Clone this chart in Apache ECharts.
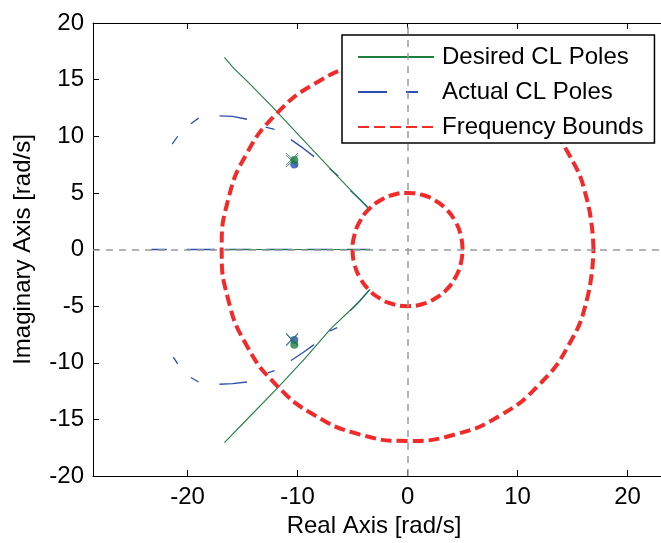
<!DOCTYPE html>
<html>
<head>
<meta charset="utf-8">
<script src="https://cdn.jsdelivr.net/npm/echarts@6/dist/echarts.min.js"></script>
<style>
  html, body { margin: 0; padding: 0; background: #fff; }
  #chart { width: 661px; height: 543px; }
</style>
</head>
<body>
<div id="chart"></div>
<script>
'use strict';

/****** data *****/
var xTicks = [-20, -10, 0, 10, 20];

// desired closed loop poles (green, solid)
var desiredUpper = [[-16.65, 16.96], [-15.8, 16.0], [-14.66, 14.93], [-12.4, 12.7], [-9.7, 9.9], [-6.3, 6.4], [-3.4, 3.45]];
var desiredReal = [[-16.6, 0], [-3.4, 0]];
var desiredLower = [[-16.65, -17.05], [-14.7, -15.1], [-11.8, -12.2], [-9.3, -9.6], [-7.0, -7.0], [-4.5, -4.7], [-3.4, -3.5]];
var desiredCross = [[-10.5, 8.0], [-10.5, -7.9]];
var desiredDots = [[-10.3, 7.9], [-10.3, -8.4]];

// actual closed loop poles (blue, dashed) - visible dash pieces
var actualPieces = [
	[[-21.4, 9.3], [-20.9, 10.0]],
	[[-19.7, 11.1], [-19.0, 11.6]],
	[[-17.1, 11.8], [-15.9, 11.75], [-14.6, 11.5]],
	[[-12.9, 10.8], [-12.1, 10.6]],
	[[-10.6, 9.7], [-9.5, 8.95], [-8.5, 8.2]],
	[[-7.1, 7.15], [-6.3, 6.5]],
	[[-5.2, 5.2], [-4.3, 4.4], [-3.5, 3.6]],
	[[-23.3, 0], [-21.9, 0]],
	[[-20.1, 0], [-17.5, 0]],
	[[-16.6, 0], [-14.2, 0]],
	[[-12.9, 0], [-10.5, 0]],
	[[-9.2, 0], [-6.8, 0]],
	[[-5.5, 0], [-3.4, 0]],
	[[-21.3, -9.5], [-20.9, -10.1]],
	[[-19.7, -11.3], [-19.0, -11.7]],
	[[-17.1, -11.9], [-15.9, -11.85], [-14.6, -11.7]],
	[[-12.7, -10.9], [-12.1, -10.7]],
	[[-10.6, -9.8], [-9.5, -9.1], [-8.5, -8.4]],
	[[-7.1, -7.2], [-6.4, -6.9]],
	[[-5.2, -5.4], [-4.3, -4.5], [-3.5, -3.6]]
];
var actualCross = [[-10.5, 7.8], [-10.5, -8.0]];
var actualDots = [[-10.3, 7.5], [-10.3, -8.0]];

// frequency bounds (red, dashed)
var outerBound = [[16.9, 0], [16.32, 4.37], [14.64, 8.45], [11.95, 11.95], [8.45, 14.64], [4.37, 16.32], [0, 16.9],
	[-4.37, 16.32], [-8.45, 14.64], [-11.95, 11.95], [-14.64, 8.45], [-16.32, 4.37], [-16.9, 0],
	[-16.32, -4.37], [-14.64, -8.45], [-11.95, -11.95], [-8.45, -14.64], [-4.37, -16.32], [0, -16.9],
	[4.37, -16.32], [8.45, -14.64], [11.95, -11.95], [14.64, -8.45], [16.32, -4.37], [16.9, 0]];
var innerBound = [[5, 0], [4.83, 1.29], [4.33, 2.5], [3.54, 3.54], [2.5, 4.33], [1.29, 4.83], [0, 5],
	[-1.29, 4.83], [-2.5, 4.33], [-3.54, 3.54], [-4.33, 2.5], [-4.83, 1.29], [-5, 0],
	[-4.83, -1.29], [-4.33, -2.5], [-3.54, -3.54], [-2.5, -4.33], [-1.29, -4.83], [0, -5],
	[1.29, -4.83], [2.5, -4.33], [3.54, -3.54], [4.33, -2.5], [4.83, -1.29], [5, 0]];
/****** data *****/

var font = "'Liberation Sans', Arial, sans-serif";
var green = '#1f7f3f';
var blue = '#2b4fb0';
var red = '#f22a2a';
var crossPath = 'path://M0 0L10 10M10 0L0 10';

var series = [];

// grey zero lines
series.push({
	name: 'zero',
	type: 'line',
	data: [],
	markLine: {
		silent: true,
		symbol: 'none',
		label: { show: false },
		lineStyle: { color: '#9a9a9a', type: [7, 6], width: 1.5 },
		data: [{ xAxis: 0 }, { yAxis: 0 }]
	}
});

// each piece is one visible dash of the blue curve
actualPieces.forEach(function(piece) {
	series.push({
		name: 'Actual CL Poles',
		type: 'line',
		symbol: 'none',
		data: piece,
		lineStyle: { color: blue, width: 1.3 }
	});
});

[desiredUpper, desiredReal, desiredLower].forEach(function(piece) {
	series.push({
		name: 'Desired CL Poles',
		type: 'line',
		symbol: 'none',
		data: piece,
		lineStyle: { color: green, width: 1.1 }
	});
});

series.push({
	name: 'actual marks', type: 'scatter', symbol: crossPath, symbolSize: 12, data: actualCross,
	itemStyle: { color: 'none', borderColor: blue, borderWidth: 1 }
});
series.push({
	name: 'actual dots', type: 'scatter', symbol: 'circle', symbolSize: 8, data: actualDots,
	itemStyle: { color: blue }
});
series.push({
	name: 'desired marks', type: 'scatter', symbol: crossPath, symbolSize: 12, data: desiredCross,
	itemStyle: { color: 'none', borderColor: green, borderWidth: 1 }
});
series.push({
	name: 'desired dots', type: 'scatter', symbol: 'circle', symbolSize: 8, data: desiredDots,
	itemStyle: { color: green }
});

[outerBound, innerBound].forEach(function(piece) {
	series.push({
		name: 'Frequency Bounds',
		type: 'line',
		symbol: 'none',
		smooth: true,
		data: piece,
		lineStyle: { color: red, width: 4, type: [11, 5] }
	});
});

var option = {
	animation: false,
	textStyle: { fontFamily: font },
	grid: { left: 93, top: 23, right: 0, bottom: 67 },
	legend: {
		orient: 'vertical',
		left: 342,
		top: 35,
		padding: [10, 11, 4, 15],
		itemWidth: 76,
		itemHeight: 14,
		itemGap: 11,
		backgroundColor: '#fff',
		borderColor: '#000',
		borderWidth: 1.5,
		borderRadius: 0,
		selectedMode: false,
		itemStyle: { opacity: 0 },
		textStyle: { fontSize: 24, color: '#000', fontFamily: font, padding: [0, 0, 0, 3] },
		data: [
			{ name: 'Desired CL Poles' },
			{ name: 'Actual CL Poles', lineStyle: { type: [29, 19, 12, 30] } },
			{ name: 'Frequency Bounds' }
		]
	},
	xAxis: [{
		type: 'value',
		min: -28.6,
		max: 23.04,
		position: 'bottom',
		name: 'Real Axis [rad/s]',
		nameLocation: 'middle',
		nameGap: 34,
		nameTextStyle: { fontSize: 24, color: '#000', fontFamily: font, padding: [0, 6, 0, 0] },
		axisLine: { onZero: false, lineStyle: { color: '#000', width: 1 } },
		axisTick: { inside: true, length: 6, customValues: xTicks, lineStyle: { color: '#000' } },
		axisLabel: { fontSize: 24, color: '#000', fontFamily: font, margin: 9, customValues: xTicks },
		splitLine: { show: false }
	}, {
		type: 'value',
		min: -28.6,
		max: 23.04,
		position: 'top',
		axisLine: { onZero: false, lineStyle: { color: '#000', width: 1 } },
		axisTick: { inside: true, length: 6, customValues: xTicks, lineStyle: { color: '#000' } },
		axisLabel: { show: false },
		splitLine: { show: false }
	}],
	yAxis: {
		type: 'value',
		min: -20,
		max: 20,
		interval: 5,
		name: 'Imaginary Axis [rad/s]',
		nameLocation: 'middle',
		nameGap: 58,
		nameTextStyle: { fontSize: 24, color: '#000', fontFamily: font },
		axisLine: { show: true, onZero: false, lineStyle: { color: '#000', width: 1 } },
		axisTick: { show: true, inside: true, length: 6, lineStyle: { color: '#000' } },
		axisLabel: { fontSize: 24, color: '#000', fontFamily: font, margin: 9 },
		splitLine: { show: false }
	},
	series: series
};

var chart = echarts.init(document.getElementById('chart'));
chart.setOption(option);
</script>
</body>
</html>
